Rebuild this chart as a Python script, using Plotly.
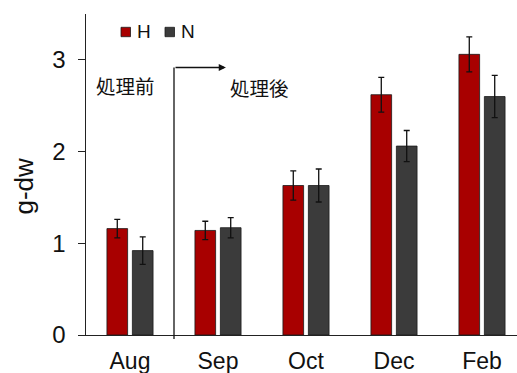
import plotly.graph_objects as go

# Sampling months and group means (g dry weight) with error bars
months = ["Aug", "Sep", "Oct", "Dec", "Feb"]
h_values = [1.16, 1.14, 1.63, 2.62, 3.06]
h_errors = [0.10, 0.10, 0.16, 0.19, 0.19]
n_values = [0.92, 1.17, 1.63, 2.06, 2.60]
n_errors = [0.15, 0.11, 0.18, 0.17, 0.23]

series_names = ["H", "N"]
colors = {"H": "#A80000", "N": "#3B3B3B"}

W, H = 517, 373
ML, MR, MT, MB = 86, 0, 14, 38
PX_PER_CAT = 88.0
x_lo = -0.5
x_hi = x_lo + (W - ML - MR) / PX_PER_CAT
y_max = 3.5

font_main = "Liberation Sans, Arial, sans-serif"
font_cjk = "Noto Sans CJK JP, sans-serif"

fig = go.Figure()
bar_w = 0.235
offsets = {"H": -0.262, "N": 0.027}
for name, vals, errs in [("H", h_values, h_errors), ("N", n_values, n_errors)]:
    fig.add_trace(go.Bar(
        x=list(range(len(months))), y=vals, name=name,
        width=bar_w, offset=offsets[name],
        marker=dict(color=colors[name], line=dict(color="#1a1a1a", width=0.8)),
        error_y=dict(type="data", array=errs, visible=True,
                     color="#111111", thickness=1.3, width=3),
        showlegend=False,
    ))

# Legend swatches and labels
plot_w = W - ML - MR
plot_h = H - MT - MB


def px_to_paper_x(px):
    return (px - ML) / plot_w


def px_to_paper_y(py):
    return (H - MB - py) / plot_h


legend_items = [("H", 121), ("N", 165)]
shapes = []
annotations = []
for name, left in legend_items:
    shapes.append(dict(type="rect", xref="paper", yref="paper",
                       x0=px_to_paper_x(left), x1=px_to_paper_x(left + 9.5),
                       y0=px_to_paper_y(36.7), y1=px_to_paper_y(27.3),
                       fillcolor=colors[name], line=dict(color="#1a1a1a", width=0.8)))
    annotations.append(dict(xref="paper", yref="paper",
                            x=px_to_paper_x(left + 14), y=px_to_paper_y(31.5),
                            xanchor="left", yanchor="middle", showarrow=False,
                            text=name, font=dict(family=font_main, size=19, color="#111111")))

# Treatment boundary between Aug and Sep, with arrow toward later months
arrow_y = (H - MB - 67.5) / plot_h * y_max
shapes.append(dict(type="line", xref="x", yref="paper",
                   x0=0.5, x1=0.5, y0=px_to_paper_y(339), y1=px_to_paper_y(67.5),
                   line=dict(color="#111111", width=1.3)))
annotations.append(dict(xref="x", yref="y", axref="x", ayref="y",
                        x=1.09, y=arrow_y, ax=0.5, ay=arrow_y,
                        showarrow=True, arrowhead=2, arrowsize=1.1, arrowwidth=1.3,
                        arrowcolor="#111111", text=""))
annotations.append(dict(xref="paper", yref="paper",
                        x=px_to_paper_x(94), y=px_to_paper_y(85.5),
                        xanchor="left", yanchor="middle", showarrow=False,
                        text="処理前", font=dict(family=font_cjk, size=19.5, color="#111111")))
annotations.append(dict(xref="paper", yref="paper",
                        x=px_to_paper_x(228), y=px_to_paper_y(87),
                        xanchor="left", yanchor="middle", showarrow=False,
                        text="処理後", font=dict(family=font_cjk, size=19.5, color="#111111")))
# Y axis title
annotations.append(dict(xref="paper", yref="paper",
                        x=px_to_paper_x(23), y=px_to_paper_y(186.5),
                        xanchor="center", yanchor="middle", showarrow=False,
                        textangle=-90, text="g-dw",
                        font=dict(family=font_main, size=26, color="#111111")))

fig.update_layout(
    width=W, height=H,
    margin=dict(l=ML, r=MR, t=MT, b=MB, pad=0, autoexpand=False),
    paper_bgcolor="white", plot_bgcolor="white",
    barmode="group",
    shapes=shapes, annotations=annotations,
    font=dict(family=font_main, color="#111111"),
)
fig.update_xaxes(
    range=[x_lo, x_hi], tickmode="array",
    tickvals=list(range(len(months))), ticktext=months,
    showline=True, linecolor="#222222", linewidth=1.3,
    ticks="", showgrid=False, zeroline=False, automargin=False,
    tickfont=dict(family=font_main, size=23, color="#111111"),
    ticklabelstandoff=5,
)
fig.update_yaxes(
    range=[0, y_max], tickvals=[0, 1, 2, 3],
    showline=True, linecolor="#222222", linewidth=1.3,
    ticks="outside", ticklen=6.5, tickwidth=1.3, tickcolor="#222222",
    showgrid=False, zeroline=False, automargin=False,
    tickfont=dict(family=font_main, size=24, color="#111111"),
    ticklabelstandoff=8,
)

fig.write_html("out.html")
